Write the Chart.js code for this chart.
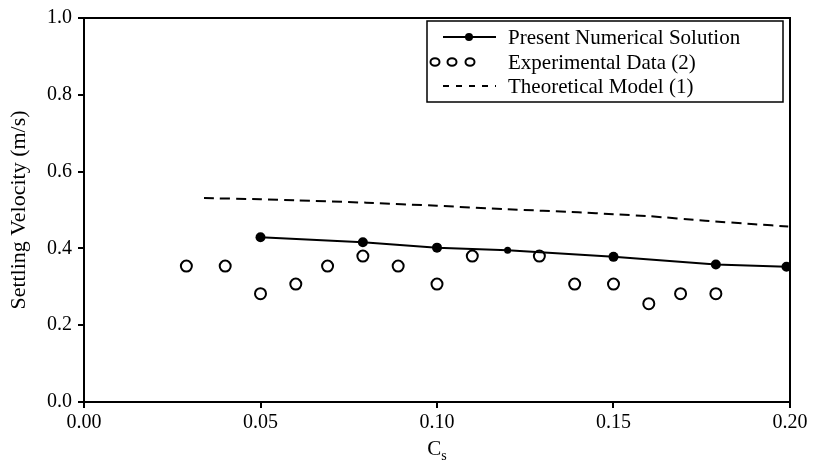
<!DOCTYPE html>
<html><head><meta charset="utf-8">
<script src="https://cdn.jsdelivr.net/npm/chart.js@4"></script>
<style>html,body{margin:0;padding:0;background:#fff}</style>
</head><body>
<canvas id="c" width="815" height="465"></canvas>
<script>
// ---- data ----
const numX = [0.050, 0.079, 0.100, 0.120, 0.150, 0.179, 0.199];
const numY = [0.429, 0.416, 0.402, 0.395, 0.378, 0.358, 0.352];
const numRadius = [5, 5, 5, 3.5, 5, 5, 5];

const expX = [0.029, 0.040, 0.050, 0.060, 0.069, 0.079, 0.089, 0.100, 0.110, 0.129, 0.139, 0.150, 0.160, 0.169, 0.179];
const expY = [0.354, 0.354, 0.282, 0.307, 0.354, 0.380, 0.354, 0.307, 0.380, 0.380, 0.307, 0.307, 0.256, 0.282, 0.282];

const theoX = [0.034, 0.050, 0.060, 0.080, 0.100, 0.120, 0.140, 0.150, 0.160, 0.176, 0.190, 0.1995];
const theoY = [0.531, 0.528, 0.525, 0.519, 0.511, 0.502, 0.494, 0.489, 0.484, 0.472, 0.463, 0.457];

const xTicks = [0, 0.05, 0.10, 0.15, 0.20];
const yTicks = [0, 0.2, 0.4, 0.6, 0.8, 1.0];

const legendLabels = ['Present Numerical Solution', 'Experimental Data (2)', 'Theoretical Model (1)'];
const yTitle = 'Settling Velocity (m/s)';
const xTitleMain = 'C', xTitleSub = 's';

const toPts = (xs, ys) => xs.map((x, i) => ({x: x, y: ys[i]}));
const FONT = '"Liberation Serif", "Times New Roman", serif';

const framePlugin = {
  id: 'frame',
  afterDraw(chart) {
    const {ctx, chartArea: a} = chart;
    ctx.save();
    ctx.strokeStyle = '#000';
    ctx.lineWidth = 2;
    ctx.beginPath();
    ctx.moveTo(a.left - 1, a.top);
    ctx.lineTo(a.right, a.top);
    ctx.lineTo(a.right, a.bottom);
    ctx.stroke();

    // legend box
    const bx = 427, by = 21, bw = 356, bh = 81;
    ctx.lineWidth = 1.5;
    ctx.strokeRect(bx, by, bw, bh);
    const rows = [37, 62, 86];
    // row 1: line with dot
    ctx.lineWidth = 2;
    ctx.beginPath(); ctx.moveTo(443, rows[0]); ctx.lineTo(496, rows[0]); ctx.stroke();
    ctx.fillStyle = '#000';
    ctx.beginPath(); ctx.arc(469, rows[0], 4, 0, Math.PI * 2); ctx.fill();
    // row 2: three circles
    [435, 452, 470].forEach(cx => {
      ctx.beginPath(); ctx.ellipse(cx, rows[1], 4.5, 3.8, 0, 0, Math.PI * 2); ctx.stroke();
    });
    // row 3: dashes
    ctx.setLineDash([6, 7]);
    ctx.beginPath(); ctx.moveTo(443, rows[2]); ctx.lineTo(496, rows[2]); ctx.stroke();
    ctx.setLineDash([]);
    // legend text
    ctx.font = '21px ' + FONT;
    ctx.textBaseline = 'middle';
    ctx.textAlign = 'left';
    legendLabels.forEach((t, i) => ctx.fillText(t, 508, rows[i] + 1));

    // x title with subscript
    ctx.font = '21px ' + FONT;
    const wC = ctx.measureText(xTitleMain).width;
    ctx.font = '14px ' + FONT;
    const wS = ctx.measureText(xTitleSub).width;
    const x0 = (a.left + a.right) / 2 - (wC + wS) / 2;
    ctx.textBaseline = 'alphabetic';
    ctx.font = '21px ' + FONT;
    ctx.fillText(xTitleMain, x0, 455);
    ctx.font = '14px ' + FONT;
    ctx.fillText(xTitleSub, x0 + wC, 460);
    ctx.restore();
  }
};

new Chart(document.getElementById('c'), {
  type: 'scatter',
  data: {
    datasets: [
      {
        label: legendLabels[0],
        data: toPts(numX, numY),
        showLine: true,
        borderColor: '#000',
        backgroundColor: '#000',
        borderWidth: 2,
        pointRadius: numRadius,
        pointBorderWidth: 0,
        pointBackgroundColor: '#000',
        tension: 0
      },
      {
        label: legendLabels[1],
        data: toPts(expX, expY),
        showLine: false,
        borderColor: '#000',
        backgroundColor: '#fff',
        pointRadius: 5.5,
        pointBorderWidth: 2,
        pointBorderColor: '#000',
        pointBackgroundColor: '#fff'
      },
      {
        label: legendLabels[2],
        data: toPts(theoX, theoY),
        showLine: true,
        borderColor: '#000',
        borderWidth: 2,
        borderDash: [10, 6],
        pointRadius: 0,
        tension: 0.2
      }
    ]
  },
  options: {
    responsive: false,
    animation: false,
    devicePixelRatio: 1,
    layout: {padding: {top: 14, right: 25, left: 0, bottom: 0}},
    plugins: {legend: {display: false}, tooltip: {enabled: false}},
    scales: {
      x: {
        type: 'linear', min: 0, max: 0.2,
        afterBuildTicks: s => { s.ticks = xTicks.map(v => ({value: v})); },
        afterFit: s => { s.height = 63; },
        ticks: {callback: v => v.toFixed(2), color: '#000', font: {family: FONT, size: 20}, padding: 3, maxRotation: 0},
        grid: {drawOnChartArea: false, drawTicks: true, tickLength: 6, color: '#000', lineWidth: 2},
        border: {display: true, color: '#000', width: 2}
      },
      y: {
        type: 'linear', min: 0, max: 1,
        afterBuildTicks: s => { s.ticks = yTicks.map(v => ({value: v})); },
        afterFit: s => { s.width = 84; },
        ticks: {callback: v => v.toFixed(1), color: '#000', font: {family: FONT, size: 20}, padding: 6},
        grid: {drawOnChartArea: false, drawTicks: true, tickLength: 6, color: '#000', lineWidth: 2},
        border: {display: true, color: '#000', width: 2},
        title: {display: true, text: yTitle, color: '#000', font: {family: FONT, size: 22}, padding: {top: 6, bottom: 0}}
      }
    }
  },
  plugins: [framePlugin]
});
</script>
</body></html>
